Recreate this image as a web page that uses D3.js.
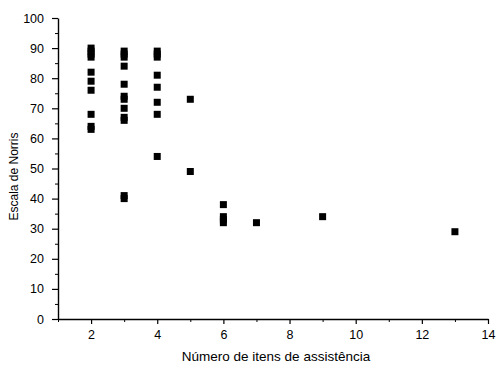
<!DOCTYPE html>
<html lang="pt">
<head>
<meta charset="UTF-8">
<title>Escala de Norris</title>
<script src="https://d3js.org/d3.v7.min.js"></script>
<style>
  body { margin: 0; background: #fff; }
  svg text { font-family: "Liberation Sans", Arial, sans-serif; }
</style>
</head>
<body>
<div id="chart"></div>
<script>
// number of assistance items (x) and Norris scale score (y)
const itens = [2,2,2,2,2,2,2,2,2,2,
               3,3,3,3,3,3,3,3,3,3,3,3,
               4,4,4,4,4,4,4,4,
               5,5,
               6,6,6,6,
               7, 9, 13];
const norris = [90,89,88,87,82,79,76,68,64,63,
                89,88,87,84,78,74,73,70,67,66,41,40,
                89,88,87,81,77,72,68,54,
                73,49,
                38,34,33,32,
                32, 34, 29];
const xTicks = [2,4,6,8,10,12,14];
const yTicks = [0,10,20,30,40,50,60,70,80,90,100];

const svgWidth = 497, svgHeight = 366;
const margin = { top: 18, right: 9, bottom: 47, left: 58 };
const width = svgWidth - margin.left - margin.right;
const height = svgHeight - margin.top - margin.bottom;

const svg = d3.select('#chart').append('svg')
    .attr('width', svgWidth)
    .attr('height', svgHeight)
  .append('g')
    .attr('transform', `translate(${margin.left},${margin.top})`);

const x = d3.scaleLinear().domain([1, 14]).range([0, width]);
const y = d3.scaleLinear().domain([0, 100]).range([height, 0]);

// minor ticks
svg.append('g')
    .attr('transform', `translate(0,${height})`)
    .call(d3.axisBottom(x).tickValues(d3.range(1, 14, 2)).tickSize(3).tickFormat(''))
    .call(g => g.select('.domain').remove());
svg.append('g')
    .call(d3.axisLeft(y).tickValues(d3.range(5, 100, 10)).tickSize(3).tickFormat(''))
    .call(g => g.select('.domain').remove());

// major axes
const xAxis = svg.append('g')
    .attr('transform', `translate(0,${height})`)
    .call(d3.axisBottom(x).tickValues(xTicks).tickSize(5).tickSizeOuter(0).tickPadding(6));
const yAxis = svg.append('g')
    .call(d3.axisLeft(y).tickValues(yTicks).tickSize(6).tickSizeOuter(0).tickPadding(8));

[xAxis, yAxis].forEach(g => {
  g.selectAll('text').attr('font-size', 12.5).attr('fill', '#000')
    .style('font-family', '"Liberation Sans", Arial, sans-serif');
  g.selectAll('line').attr('stroke-width', 1.2);
  g.select('.domain').attr('stroke-width', 1.4);
});

const pts = itens.map((d, i) => ({ x: d, y: norris[i] }));
const s = 7;
svg.selectAll('.pt')
  .data(pts)
  .enter().append('rect')
    .attr('class', 'pt')
    .attr('x', d => x(d.x) - s / 2)
    .attr('y', d => y(d.y) - s / 2)
    .attr('width', s)
    .attr('height', s)
    .attr('fill', '#000');

svg.append('text')
    .attr('x', width / 2 + 3)
    .attr('y', height + 42)
    .attr('text-anchor', 'middle')
    .attr('font-size', 13.5)
    .text('Número de itens de assistência');

svg.append('text')
    .attr('transform', `translate(${-40},${height / 2 + 8}) rotate(-90)`)
    .attr('text-anchor', 'middle')
    .attr('font-size', 12)
    .text('Escala de Norris');
</script>
</body>
</html>
